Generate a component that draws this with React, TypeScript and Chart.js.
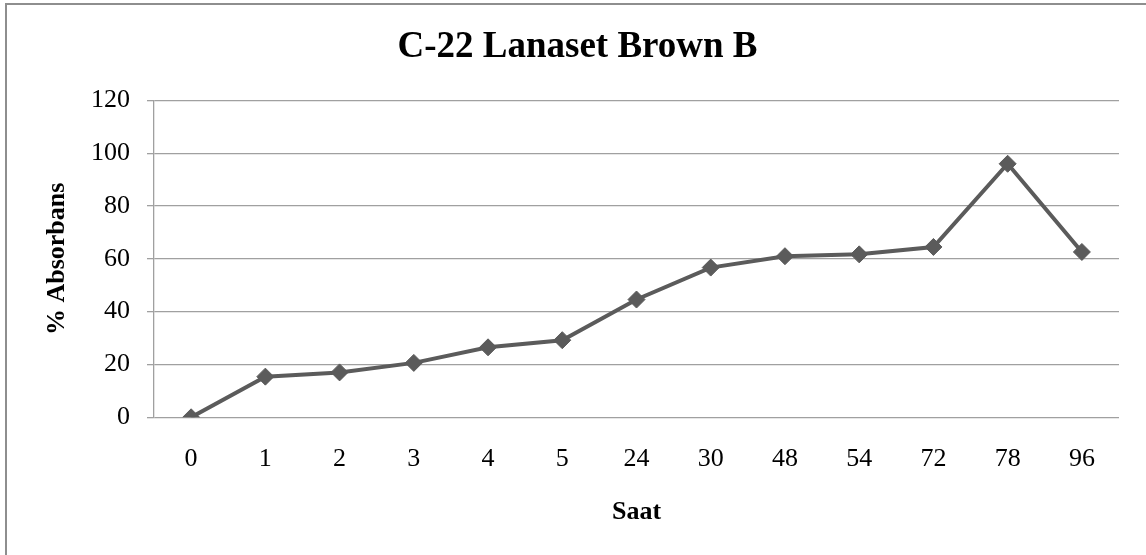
import React, { useEffect, useRef } from "react";
import { Chart, registerables } from "chart.js";

Chart.register(...registerables);

const categories = ["0", "1", "2", "3", "4", "5", "24", "30", "48", "54", "72", "78", "96"];
const absorbans = [0, 15.4, 17.0, 20.6, 26.5, 29.2, 44.6, 56.7, 61.0, 61.7, 64.5, 96.0, 62.6];
const yTicks = { min: 0, max: 120, step: 20 };
const chartTitle = "C-22 Lanaset Brown B";
const xTitle = "Saat";
const yTitle = "% Absorbans";

const W = 1146;
const H = 555;
const FONT = "'Liberation Serif', 'Times New Roman', serif";
const PAD_LEFT = 36;

const frame = {
  id: "frame",
  beforeDraw(chart: any) {
    const ctx = chart.ctx;
    ctx.save();
    ctx.fillStyle = "#ffffff";
    ctx.fillRect(0, 0, W, H);
    ctx.fillStyle = "#8e8e8e";
    ctx.fillRect(5, 3, 2, H);
    ctx.fillRect(5, 3, W, 2);
    ctx.restore();
  },
};

export default function App() {
  const ref = useRef<HTMLCanvasElement>(null);
  useEffect(() => {
    if (!ref.current) return;
    const chart = new Chart(ref.current, {
      type: "line",
      data: {
        labels: categories,
        datasets: [
          {
            data: absorbans,
            borderColor: "#5b5b5b",
            backgroundColor: "#5b5b5b",
            borderWidth: 4,
            pointStyle: "rectRot",
            pointRadius: 8.5,
            pointBorderWidth: 1,
            pointBackgroundColor: "#5b5b5b",
            pointBorderColor: "#5b5b5b",
            tension: 0,
          },
        ],
      },
      options: {
        responsive: false,
        animation: false,
        layout: { padding: { left: PAD_LEFT, right: 27, top: 0, bottom: 0 } },
        plugins: {
          legend: { display: false },
          tooltip: { enabled: false },
          title: {
            display: true,
            text: chartTitle,
            color: "#000000",
            font: { family: FONT, size: 37, weight: "bold" },
            padding: { top: 25, bottom: 31 },
          },
        },
        scales: {
          x: {
            offset: true,
            grid: { display: false, drawTicks: false, offset: true },
            border: { display: false },
            ticks: {
              color: "#000000",
              font: { family: FONT, size: 26 },
              padding: 26,
              maxRotation: 0,
              autoSkip: false,
            },
            title: {
              display: true,
              text: xTitle,
              color: "#000000",
              font: { family: FONT, size: 26, weight: "bold" },
              padding: { top: 0, bottom: 27 },
            },
            afterFit(scale: any) {
              scale.height = H - 417.3;
            },
          },
          y: {
            min: yTicks.min,
            max: yTicks.max,
            grid: { color: "#a0a0a0", lineWidth: 1.3, tickLength: 7, drawTicks: true },
            border: { display: true, color: "#a0a0a0", width: 1.3 },
            ticks: {
              stepSize: yTicks.step,
              color: "#000000",
              font: { family: FONT, size: 26 },
              padding: 17,
            },
            title: {
              display: true,
              text: yTitle,
              color: "#000000",
              font: { family: FONT, size: 26, weight: "bold" },
              padding: { top: 57 - PAD_LEFT - 15.6, bottom: 0 },
            },
            afterFit(scale: any) {
              scale.width = 154 - PAD_LEFT;
            },
          },
        },
      },
      plugins: [frame],
    });
    return () => chart.destroy();
  }, []);
  return (
    <div style={{ position: "fixed", left: 0, top: 0, width: W, height: H, background: "#fff" }}>
      <canvas ref={ref} width={W} height={H} style={{ width: W, height: H, display: "block" }} />
    </div>
  );
}
